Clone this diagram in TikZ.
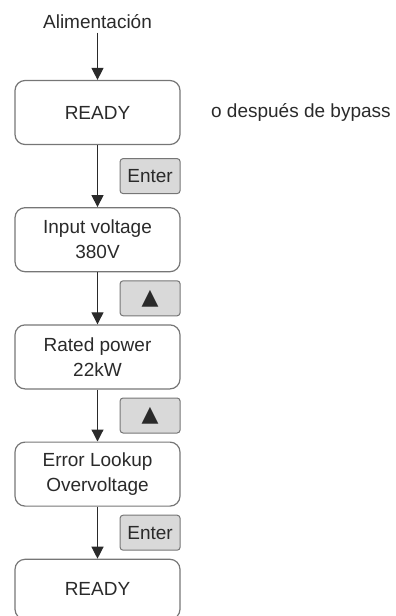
\documentclass[tikz,border=0pt]{standalone}
\usepackage{fontspec}
\setmainfont{Liberation Sans}
\newfontfamily\symfont{DejaVu Sans}
\usetikzlibrary{arrows.meta,positioning,calc}
\definecolor{framegray}{HTML}{767676}
\definecolor{keyfill}{HTML}{D9D9D9}
\definecolor{ink}{HTML}{2A2A2A}

\begin{document}
\begin{tikzpicture}[x=1pt,y=1pt,node distance=52pt,
  label text/.style={text=ink,font=\fontsize{19}{25}\selectfont},
  state/.style={label text,draw=framegray,line width=1.2pt,rounded corners=10pt,
    minimum width=165pt,minimum height=64pt,align=center},
  key/.style={label text,draw=framegray,fill=keyfill,line width=1pt,rounded corners=3pt,
    minimum width=60pt,minimum height=35pt,inner sep=0pt},
  flow/.style={draw=ink,line width=1.2pt,-{Triangle[width=12pt,length=12pt]}}]
	\useasboundingbox (0,0) rectangle (396,-616);
	
	% menu states
	\node[label text] (power) at (97.5,-22) {Alimentación};
	\node[state] (ready) at (97.5,-112.5) {READY};
	\node[label text,right=27pt of ready] (bypass) {o después de bypass};
	\node[state,below=62pt of ready] (volt) {Input voltage\\380V};
	\node[state,below=of volt] (rated) {Rated power\\22kW};
	\node[state,below=of rated] (error) {Error Lookup\\Overvoltage};
	\node[state,minimum height=60pt,below=of error] (done) {READY};
	
	% keys
	\node[key,anchor=east] (k1) at ($(ready.south east)!0.5!(volt.north east)$) {Enter};
	\node[key,anchor=east] (k2) at ($(volt.south east)!0.5!(rated.north east)$) {\symfont\fontsize{22}{22}\selectfont ▲};
	\node[key,anchor=east] (k3) at ($(rated.south east)!0.5!(error.north east)$) {\symfont\fontsize{22}{22}\selectfont ▲};
	\node[key,anchor=east] (k4) at ($(error.south east)!0.5!(done.north east)$) {Enter};
	
	\draw[flow] (power) -- (ready);
	\foreach \a/\b in {ready/volt,volt/rated,rated/error,error/done} {
		\draw[flow] (\a) -- (\b);
	}
\end{tikzpicture}
\end{document}
